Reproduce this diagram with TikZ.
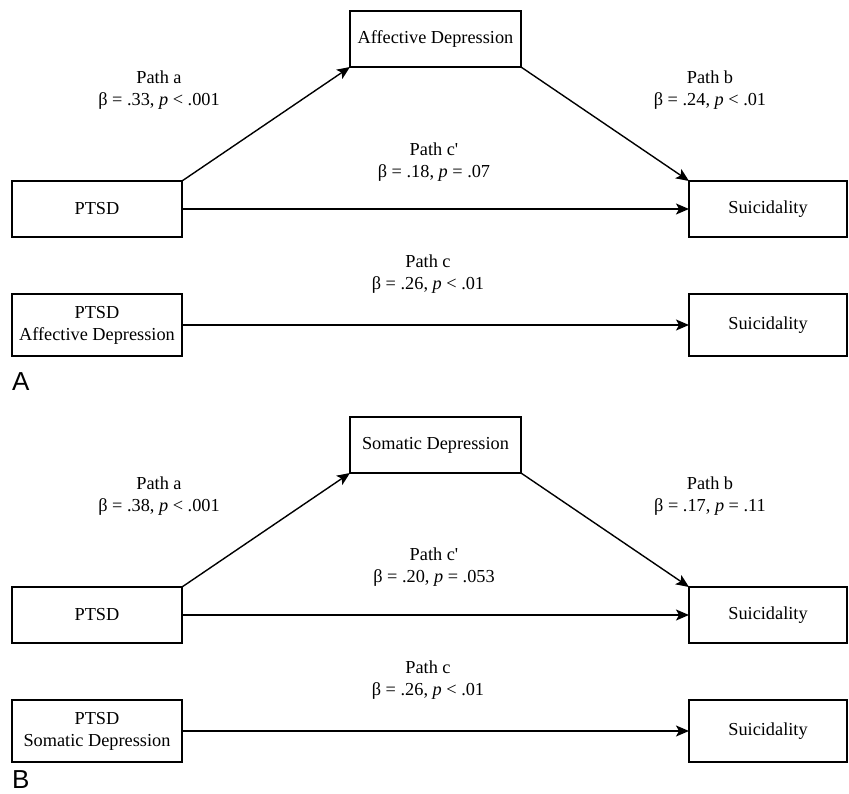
\documentclass[tikz,border=0pt]{standalone}
\usepackage{fontspec}
\setmainfont{Liberation Serif}
\newfontfamily\panelfont{Liberation Sans}
\usetikzlibrary{arrows.meta}
\begin{document}
\begin{tikzpicture}[x=1pt,y=-1pt,
  every node/.style={font=\fontsize{18.3}{22}\selectfont},
  box/.style={draw, line width=1.4pt, inner sep=0pt, outer sep=0pt, align=center},
  lbl/.style={align=center, inner sep=0pt},
  arr/.style={line width=1.4pt, -{Stealth[length=13pt,width=11pt,inset=3pt]}},
  panel/.style={font=\panelfont\fontsize{26}{26}\selectfont, inner sep=0pt, text depth=0pt, anchor=base west}]
\useasboundingbox (0,0) rectangle (849,794);
% Panel A
\node[box, minimum width=171pt, minimum height=56pt] (affA) at (435.5,39) {Affective Depression};
\node[box, minimum width=170pt, minimum height=56pt] (ptsdA) at (97,209) {PTSD};
\node[box, minimum width=158pt, minimum height=56pt] (suiA) at (768,209) {Suicidality};
\node[box, minimum width=170pt, minimum height=62pt] (ptsdA2) at (97,325) {PTSD\\Affective Depression};
\node[box, minimum width=158pt, minimum height=62pt] (suiA2) at (768,325) {Suicidality};
\draw[arr] (ptsdA.north east) -- (affA.south west);
\draw[arr] (affA.south east) -- (suiA.north west);
\draw[arr] (ptsdA.east) -- (suiA.west);
\draw[arr] (ptsdA2.east) -- (suiA2.west);
\node[lbl] (laA) at (159,90) {Path a\\β = .33, \textit{p} < .001};
\node[lbl] (lbA) at (710,90) {Path b\\β = .24, \textit{p} < .01};
\node[lbl] (lcpA) at (434,162) {Path c\textquotesingle\\β = .18, \textit{p} = .07};
\node[lbl] (lcA) at (428,274) {Path c\\β = .26, \textit{p} < .01};
\node[panel] (pA) at (12,390) {A};
% Panel B
\node[box, minimum width=171pt, minimum height=56pt] (affB) at (435.5,445) {Somatic Depression};
\node[box, minimum width=170pt, minimum height=56pt] (ptsdB) at (97,615) {PTSD};
\node[box, minimum width=158pt, minimum height=56pt] (suiB) at (768,615) {Suicidality};
\node[box, minimum width=170pt, minimum height=62pt] (ptsdB2) at (97,731) {PTSD\\Somatic Depression};
\node[box, minimum width=158pt, minimum height=62pt] (suiB2) at (768,731) {Suicidality};
\draw[arr] (ptsdB.north east) -- (affB.south west);
\draw[arr] (affB.south east) -- (suiB.north west);
\draw[arr] (ptsdB.east) -- (suiB.west);
\draw[arr] (ptsdB2.east) -- (suiB2.west);
\node[lbl] (laB) at (159,496) {Path a\\β = .38, \textit{p} < .001};
\node[lbl] (lbB) at (710,496) {Path b\\β = .17, \textit{p} = .11};
\node[lbl] (lcpB) at (434,567) {Path c\textquotesingle\\β = .20, \textit{p} = .053};
\node[lbl] (lcB) at (428,680) {Path c\\β = .26, \textit{p} < .01};
\node[panel] (pB) at (12,788) {B};
\end{tikzpicture}
\end{document}
